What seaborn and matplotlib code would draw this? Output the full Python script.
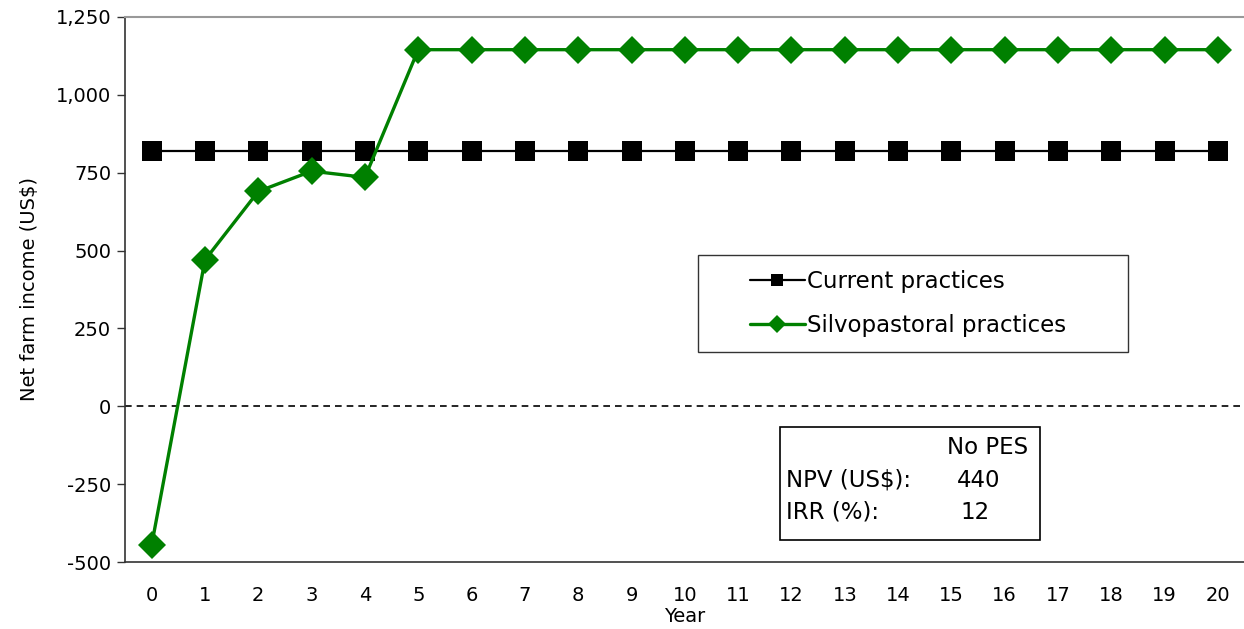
import matplotlib
matplotlib.use("Agg")
import matplotlib.pyplot as plt
import seaborn as sns
import pandas as pd
from matplotlib.patches import Rectangle
from matplotlib.ticker import FuncFormatter

years = list(range(0, 21))
current = [820] * 21
silvo = [-445, 470, 690, 755, 735] + [1145] * 16
series_names = ["Current practices", "Silvopastoral practices"]
npv_label = "NPV (US$):"
npv_value = "440"
irr_label = "IRR (%):"
irr_value = "12"

sns.set_style("white")
plt.rcParams['font.family'] = ['DejaVu Sans']
plt.rcParams['text.color'] = 'black'
plt.rcParams['axes.labelcolor'] = 'black'
plt.rcParams['xtick.color'] = 'black'
plt.rcParams['ytick.color'] = 'black'

df_cur = pd.DataFrame({"year": years, "income": current})
df_sil = pd.DataFrame({"year": years, "income": silvo})

fig = plt.figure(figsize=(12.44, 6.29), dpi=100)
ax = fig.add_axes([0.1005, 0.1065, 0.9, 0.8665])

ax.axhline(0, color="black", lw=1.2, ls=(0, (4, 3)), zorder=1)

sns.lineplot(data=df_cur, x="year", y="income", ax=ax, color="black",
             lw=1.6, marker="s", markersize=14.5, markeredgewidth=0,
             label=series_names[0], zorder=3)
sns.lineplot(data=df_sil, x="year", y="income", ax=ax, color="#008000",
             lw=2.4, marker="D", markersize=14, markeredgewidth=0,
             label=series_names[1], zorder=4)

ax.set_xlim(-0.5, 20.5)
ax.set_ylim(-500, 1250)
ax.set_yticks(range(-500, 1251, 250))
ax.yaxis.set_major_formatter(FuncFormatter(lambda v, p: f"{int(v):,}"))
ax.set_xticks(years)
ax.set_xticks([y - 0.5 for y in years] + [20.5], minor=True)
ax.tick_params(axis="x", which="major", length=0, labelsize=14, pad=17)
ax.tick_params(axis="x", which="minor", length=6, width=1, color="#333333",
               direction="out")
ax.tick_params(axis="y", length=6, width=1, color="#333333", direction="out",
               labelsize=14, pad=4, left=True)

ax.set_xlabel("Year", fontsize=14, labelpad=2)
ax.set_ylabel("Net farm income (US$)", fontsize=14, labelpad=12)

for s in ["left", "bottom"]:
    ax.spines[s].set_color("#333333")
    ax.spines[s].set_linewidth(1.2)
ax.spines["top"].set_color("#999999")
ax.spines["top"].set_linewidth(1.5)
ax.spines["right"].set_visible(False)

# legend box
ax.add_patch(Rectangle((0.512, 0.385), 0.384, 0.178, transform=ax.transAxes,
                       fill=False, ec="#333333", lw=1, zorder=5))
leg = ax.legend(loc="center left", bbox_to_anchor=(0.55, 0.474),
                frameon=False, fontsize=16.5, handlelength=2.4,
                handletextpad=0.1, labelspacing=0.9, markerscale=0.62,
                borderaxespad=0)
for t in leg.get_texts():
    t.set_color("black")

# results box
ax.add_patch(Rectangle((0.585, 0.04), 0.232, 0.208, transform=ax.transAxes,
                       facecolor="white", ec="black", lw=1.2, zorder=5))
ax.text(0.807, 0.211, "No PES", transform=ax.transAxes, ha="right",
        va="center", fontsize=16.5, zorder=6)
ax.text(0.590, 0.15, npv_label, transform=ax.transAxes, ha="left",
        va="center", fontsize=16.5, zorder=6)
ax.text(0.782, 0.15, npv_value, transform=ax.transAxes, ha="right",
        va="center", fontsize=16.5, zorder=6)
ax.text(0.590, 0.091, irr_label, transform=ax.transAxes, ha="left",
        va="center", fontsize=16.5, zorder=6)
ax.text(0.772, 0.091, irr_value, transform=ax.transAxes, ha="right",
        va="center", fontsize=16.5, zorder=6)

fig.savefig("out.png", dpi=100)
